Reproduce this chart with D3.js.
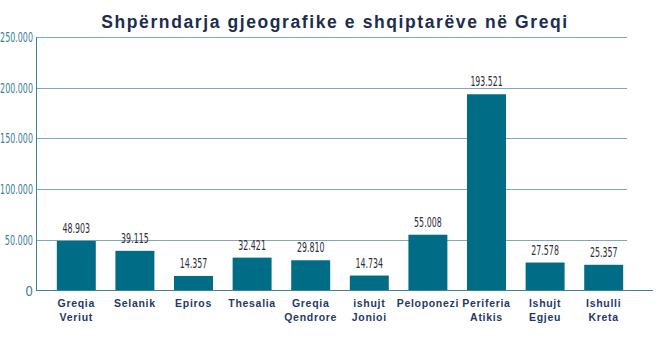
<!DOCTYPE html>
<html><head><meta charset="utf-8">
<script src="https://cdn.jsdelivr.net/npm/d3@7"></script>
<style>
body{margin:0;background:#fff;}
svg{display:block;}
</style></head>
<body>
<svg id="chart" width="670" height="360"></svg>
<script>
const categories = [["Greqia","Veriut"],["Selanik"],["Epiros"],["Thesalia"],["Greqia","Qendrore"],["ishujt","Jonioi"],["Peloponezi"],["Periferia","Atikis"],["Ishujt","Egjeu"],["Ishulli","Kreta"]];
const values = [48903, 39115, 14357, 32421, 29810, 14734, 55008, 193521, 27578, 25357];
const yTicks = [0, 50000, 100000, 150000, 200000, 250000];
const title = "Shpërndarja gjeografike e shqiptarëve në Greqi";

const svg = d3.select("#chart");
const fmt = v => v === 0 ? "0" : d3.format(",")(v).replace(/,/g, ".");
const y = d3.scaleLinear().domain([0, 250000]).range([290.5, 37]);
const x = d3.scaleBand().domain(d3.range(values.length)).range([47, 633]).paddingInner(0.335).paddingOuter(0.1675);
const narrow = "'DejaVu Sans Condensed', 'Liberation Sans Narrow', 'Roboto Condensed', sans-serif";

svg.append("text").attr("x", 335).attr("y", 28).attr("text-anchor", "middle")
  .attr("font-family", "Liberation Sans, Arial, sans-serif").attr("font-size", 17.5)
  .attr("font-weight", "bold").attr("letter-spacing", 1.6).attr("fill", "#1c2d4f").text(title);

// gridlines
svg.append("g").selectAll("line").data(yTicks.filter(d => d > 0)).join("line")
  .attr("x1", 37).attr("x2", 627).attr("y1", d => Math.round(y(d)) + 0.5).attr("y2", d => Math.round(y(d)) + 0.5)
  .attr("stroke", "#7fa9ba").attr("stroke-width", 1);

// y tick labels
svg.append("g").selectAll("text").data(yTicks).join("text")
  .attr("x", 33).attr("y", d => y(d) + 5).attr("text-anchor", "end")
  .attr("font-family", narrow).attr("font-size", 13.5)
  .attr("fill", "#3c7f96")
  .each(function(d) {
    const t = fmt(d);
    const s = d3.select(this).text(t);
    if (t.length > 1) s.attr("textLength", t.length * 4.7).attr("lengthAdjust", "spacingAndGlyphs");
  });

// bars
svg.append("g").selectAll("rect").data(values).join("rect")
  .attr("x", (d, i) => x(i)).attr("width", x.bandwidth())
  .attr("y", d => y(d)).attr("height", d => y(0) - y(d)).attr("fill", "#006c86");

// value labels
svg.append("g").selectAll("text").data(values).join("text")
  .attr("x", (d, i) => x(i) + x.bandwidth() / 2).attr("y", d => y(d) - 8).attr("text-anchor", "middle")
  .attr("font-family", narrow).attr("font-size", 14)
  .attr("fill", "#2e2e36")
  .each(function(d) {
    const t = fmt(d);
    d3.select(this).text(t).attr("textLength", t.length * 4.6).attr("lengthAdjust", "spacingAndGlyphs");
  });

// axes lines
svg.append("line").attr("x1", 36.5).attr("x2", 36.5).attr("y1", 37).attr("y2", 291).attr("stroke", "#3f8199").attr("stroke-width", 1);
svg.append("line").attr("x1", 36).attr("x2", 653).attr("y1", 290.5).attr("y2", 290.5).attr("stroke", "#3f8199").attr("stroke-width", 1.2);

// category labels
const cg = svg.append("g").selectAll("text").data(categories).join("text")
  .attr("x", (d, i) => x(i) + x.bandwidth() / 2).attr("y", 307).attr("text-anchor", "middle")
  .attr("font-family", "Liberation Sans, Arial, sans-serif").attr("font-size", 10.5).attr("font-weight", "bold")
  .attr("letter-spacing", 0.7).attr("fill", "#1f3a66");
cg.selectAll("tspan").data(d => d).join("tspan")
  .attr("x", function() { return d3.select(this.parentNode).attr("x"); })
  .attr("dy", (d, i) => i === 0 ? 0 : 14).text(d => d);
</script>
</body></html>
